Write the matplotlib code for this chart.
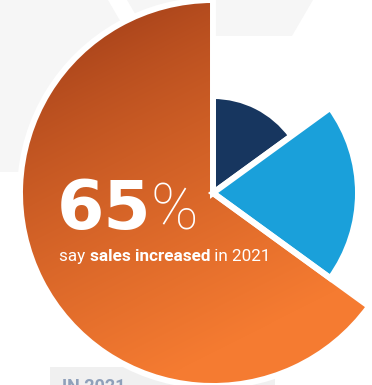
import matplotlib.pyplot as plt
import numpy as np
from matplotlib.patches import Wedge, Polygon, Rectangle

# share of respondents per answer, and the radius each slice is drawn with
labels = ['increased', 'decreased', 'stayed the same']
shares = [65, 15, 20]
radii = [193, 97, 145]
colors = [None, '#17365f', '#1aa0da']
headline = '65'
caption = ['say ', 'sales increased', ' in 2021']

W, H = 372, 385
fig = plt.figure(figsize=(W / 100, H / 100), dpi=100)
ax = fig.add_axes([0, 0, 1, 1])
ax.set_xlim(0, W)
ax.set_ylim(0, H)
ax.axis('off')

# faint hexagon shapes behind the chart
ax.add_patch(Polygon([(0, H), (108, H), (158, H - 86), (108, H - 172), (0, H - 172)],
                     closed=True, fc='#f6f6f6', ec='none', zorder=0))
ax.add_patch(Polygon([(127, H), (313, H), (292, H - 36), (148, H - 36)],
                     closed=True, fc='#f6f6f6', ec='none', zorder=0))
ax.add_patch(Rectangle((50, 0), 225, 18, fc='#f0f0f0', ec='none', zorder=0))
ax.text(62, -7, 'IN 2021', color='#8fa0ba', fontsize=13, fontweight='bold',
        ha='left', va='baseline', family='Roboto', zorder=1)

cx, cy = 213, H - 193
start = 90.0
wedges = []
# slices go clockwise from 12 o'clock, smallest piece first
order = [1, 2, 0]
for i in order:
    sweep = shares[i] / sum(shares) * 360
    t2 = start
    t1 = start - sweep
    start = t1
    wedges.append((i, t1, t2))

for i, t1, t2 in wedges:
    w = Wedge((cx, cy), radii[i], t1, t2, fc=colors[i] or 'none', ec='white',
              lw=4.3, zorder=3)
    ax.add_patch(w)
    if colors[i] is None:
        # gradient fill, dark rust at the top left to bright orange lower down
        n = 400
        px = cx - 200 + np.linspace(0, 400, n)
        py = (H - cy) - 200 + np.linspace(0, 400, n)
        gx, gy = np.meshgrid(px, py)
        p = 0.45 * gx + 0.89 * gy
        t = np.clip((p - 70) / 340, 0, 1) ** 0.8
        c0 = np.array([0xaa, 0x44, 0x1b]) / 255
        c1 = np.array([0xf5, 0x7b, 0x31]) / 255
        img = c0 + (c1 - c0) * t[..., None]
        im = ax.imshow(img, extent=[cx - 200, cx + 200, cy - 200, cy + 200],
                       origin='upper', zorder=2, interpolation='bilinear')
        clip = Wedge((cx, cy), radii[i], t1, t2, fc='none', ec='none',
                     transform=ax.transData)
        ax.add_patch(clip)
        im.set_clip_path(clip)
ax.set_xlim(0, W)
ax.set_ylim(0, H)

ax.text(57, H - 229, headline, color='white', fontsize=49, fontweight='bold',
        family='DejaVu Sans', ha='left', va='baseline', zorder=5)
ax.text(150, H - 229, '%', color='white', fontsize=46, fontweight='light',
        family='Roboto', ha='left', va='baseline', zorder=5)

fig.canvas.draw()
r = fig.canvas.get_renderer()
x = 59
for k, part in enumerate(caption):
    t = ax.text(x, H - 261, part, color='white', fontsize=12.3,
                fontweight='bold' if k == 1 else 'normal', family='Roboto',
                ha='left', va='baseline', zorder=5)
    bb = t.get_window_extent(renderer=r)
    x += bb.width

fig.savefig('out.png', dpi=100)
